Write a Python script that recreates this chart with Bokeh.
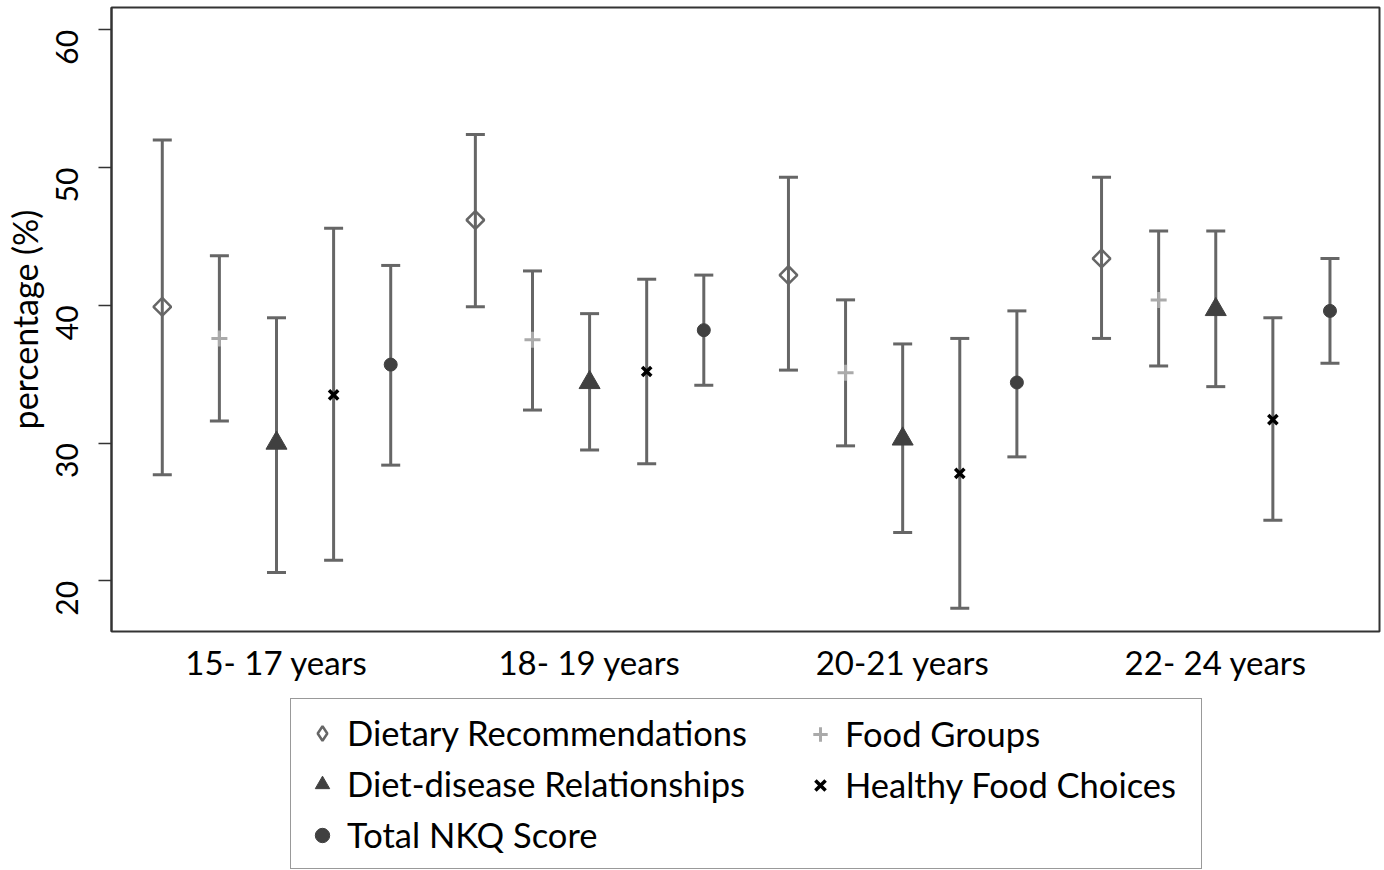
import math

from bokeh.embed import file_html
from bokeh.layouts import column
from bokeh.models import (ColumnDataSource, FixedTicker, Legend, LegendItem,
                          Range1d, TeeHead, Whisker)
from bokeh.plotting import figure
from bokeh.resources import INLINE

# Age groups shown along the x axis
age_groups = ["15- 17 years", "18- 19 years", "20-21 years", "22- 24 years"]

# Mean scores (%) with lower / upper interval bounds per knowledge domain
dietary_rec = [39.9, 46.2, 42.2, 43.4]
dietary_rec_lo = [27.7, 39.9, 35.3, 37.6]
dietary_rec_hi = [52.0, 52.4, 49.3, 49.3]

food_groups = [37.6, 37.5, 35.1, 40.4]
food_groups_lo = [31.6, 32.4, 29.8, 35.6]
food_groups_hi = [43.6, 42.5, 40.4, 45.4]

diet_disease = [30.0, 34.4, 30.3, 39.7]
diet_disease_lo = [20.6, 29.5, 23.5, 34.1]
diet_disease_hi = [39.1, 39.4, 37.2, 45.4]

healthy_choices = [33.5, 35.2, 27.8, 31.7]
healthy_choices_lo = [21.5, 28.5, 18.0, 24.4]
healthy_choices_hi = [45.6, 41.9, 37.6, 39.1]

total_nkq = [35.7, 38.2, 34.4, 39.6]
total_nkq_lo = [28.4, 34.2, 29.0, 35.8]
total_nkq_hi = [42.9, 42.2, 39.6, 43.4]

y_ticks = [20, 30, 40, 50, 60]

FONT = "Lato"
WHISKER = "#666666"
DARK = "#404040"

# Marker style of each series
styles = {
    "Dietary Recommendations": dict(marker="square", angle=math.pi / 4, size=12.5,
                                    fill_color=None, line_color=WHISKER, line_width=2.5),
    "Food Groups": dict(marker="cross", size=16, line_color="#aaaaaa", line_width=3),
    "Diet-disease Relationships": dict(marker="triangle", size=21, fill_color=DARK,
                                       line_color=DARK, line_width=1),
    "Healthy Food Choices": dict(marker="x", size=13, line_color="black", line_width=3.5),
    "Total NKQ Score": dict(marker="circle", size=13, fill_color=DARK,
                            line_color=DARK, line_width=1),
}
# The key draws markers unrotated, so the hollow diamond uses the diamond shape there
key_styles = dict(styles)
key_styles["Dietary Recommendations"] = dict(marker="diamond", size=14,
                                             fill_color=None, line_color=WHISKER,
                                             line_width=2.5)

p = figure(
    width=1384, height=690,
    x_range=Range1d(0.473, 4.523), y_range=Range1d(16.32, 61.63),
    output_backend="svg", toolbar_location=None,
    min_border_left=109, min_border_right=5,
    min_border_top=7, min_border_bottom=59,
)
p.background_fill_color = "white"
p.border_fill_color = "white"
p.outline_line_color = "#333333"
p.outline_line_width = 2
p.xgrid.visible = False
p.ygrid.visible = False

# Five series per age group, spread evenly around the group's centre
step = 0.1824
series = [
    ("Dietary Recommendations", dietary_rec, dietary_rec_lo, dietary_rec_hi, -2),
    ("Food Groups", food_groups, food_groups_lo, food_groups_hi, -1),
    ("Diet-disease Relationships", diet_disease, diet_disease_lo, diet_disease_hi, 0),
    ("Healthy Food Choices", healthy_choices, healthy_choices_lo, healthy_choices_hi, 1),
    ("Total NKQ Score", total_nkq, total_nkq_lo, total_nkq_hi, 2),
]

sources = {}
for name, mean, lo, hi, k in series:
    xs = [i + 1 + k * step for i in range(len(age_groups))]
    src = ColumnDataSource(dict(x=xs, y=mean, lo=lo, hi=hi))
    sources[name] = src
    p.add_layout(Whisker(
        base="x", lower="lo", upper="hi", source=src,
        line_color=WHISKER, line_width=3, level="underlay",
        lower_head=TeeHead(size=19, line_color=WHISKER, line_width=3),
        upper_head=TeeHead(size=19, line_color=WHISKER, line_width=3),
    ))
    p.scatter("x", "y", source=src, **styles[name])

# x axis: age-group labels, no tick marks
p.xaxis.ticker = FixedTicker(ticks=[1, 2, 3, 4])
p.xaxis.major_label_overrides = {i + 1: g for i, g in enumerate(age_groups)}
p.xaxis.major_tick_line_color = None
p.xaxis.minor_tick_line_color = None
p.xaxis.axis_line_color = None
p.xaxis.major_label_standoff = 4
p.xaxis.major_label_text_font = FONT
p.xaxis.major_label_text_font_size = "33px"
p.xaxis.major_label_text_color = "black"

# y axis: percentage with rotated tick labels
p.yaxis.ticker = FixedTicker(ticks=y_ticks)
p.yaxis.axis_label = "percentage (%)"
p.yaxis.axis_label_text_font = FONT
p.yaxis.axis_label_text_font_size = "34px"
p.yaxis.axis_label_text_font_style = "normal"
p.yaxis.axis_label_text_color = "black"
p.yaxis.axis_label_standoff = -2
p.yaxis.major_label_orientation = math.pi / 2
p.yaxis.major_label_text_font = FONT
p.yaxis.major_label_text_font_size = "30px"
p.yaxis.major_label_text_color = "black"
p.yaxis.major_label_standoff = 31
p.yaxis.major_tick_out = 13
p.yaxis.major_tick_in = 0
p.yaxis.major_tick_line_color = "#333333"
p.yaxis.major_tick_line_width = 1.5
p.yaxis.minor_tick_line_color = None
p.yaxis.axis_line_color = "#333333"
p.yaxis.axis_line_width = 2

# Key panel below the chart; its renderers share the series sources but
# the ranges keep the points out of view, so only the key entries show
key = figure(
    width=1384, height=180,
    x_range=Range1d(-20, -19), y_range=Range1d(-20, -19),
    x_axis_location=None, y_axis_location=None,
    output_backend="svg", toolbar_location=None,
    min_border=0,
)
key.outline_line_color = None
key.background_fill_color = "white"
key.border_fill_color = "white"
key.grid.visible = False

key_renderers = {name: key.scatter("x", "y", source=sources[name], **key_styles[name])
                 for name in key_styles}

common = dict(
    label_text_font=FONT, label_text_font_size="34.5px", label_text_color="black",
    glyph_width=36, glyph_height=36, label_height=40,
    label_standoff=7, spacing=10, padding=13,
    orientation="vertical",
)
left_names = ["Dietary Recommendations", "Diet-disease Relationships", "Total NKQ Score"]
right_names = ["Food Groups", "Healthy Food Choices"]

legend_left = Legend(
    items=[LegendItem(label=n, renderers=[key_renderers[n]]) for n in left_names],
    location=(179, 1), label_width=841,
    border_line_color="#333333", border_line_width=1.5,
    background_fill_color="white", background_fill_alpha=1,
    **common,
)
legend_right = Legend(
    items=[LegendItem(label=n, renderers=[key_renderers[n]]) for n in right_names],
    location=(691, 65),
    border_line_color=None, background_fill_alpha=0,
    **common,
)
key.add_layout(legend_left, "center")
key.add_layout(legend_right, "center")

open("out.html", "w").write(file_html(column(p, key), INLINE))
